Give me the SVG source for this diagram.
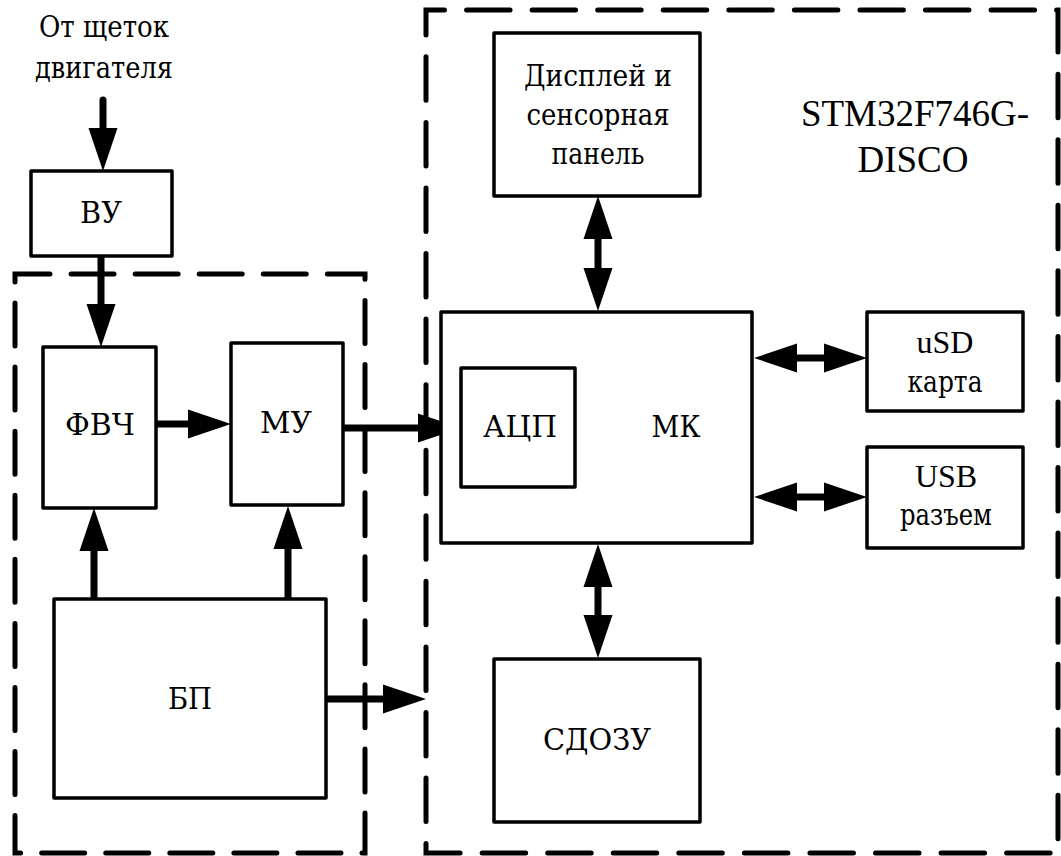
<svg xmlns="http://www.w3.org/2000/svg" xmlns:xlink="http://www.w3.org/1999/xlink" width="1061" height="856" viewBox="0 0 1061 856">
<style>
  .box { fill: #fff; stroke: #000; stroke-width: 3.5; stroke-linejoin: round; }
  .grp { fill: none; stroke: #000; stroke-width: 5; stroke-linecap: round; }
  .shaft { stroke: #000; stroke-width: 7; fill: none; }
  .t { font-family: "Liberation Serif", "DejaVu Serif", serif; font-size: 32px; fill: #000; text-anchor: middle; }
  .cy { font-family: "DejaVu Serif", "Liberation Serif", serif; font-size: 29px; }
  .big { font-size: 37px; }
</style>
<defs>
  <path id="ah" d="M0,0 L-43,-14.5 L-43,14.5 Z" fill="#000"/>
</defs>
<rect width="1061" height="856" fill="#fff"/>

<g id="groups">
  <path id="grp-analog" class="grp" d="M15,282 L15,274 L365,274 L365,853 L15,853 Z" stroke-dasharray="43 21.07"/>
  <path id="grp-disco" class="grp" d="M426,35 L426,10 L1058,10 L1058,853 L426,853 Z" stroke-dasharray="43.5 22.06"/>
</g>

<g id="connectors">
  <line class="shaft" x1="103" y1="100" x2="103" y2="131" stroke-linecap="round"/>
  <use xlink:href="#ah" href="#ah" transform="translate(103,171) rotate(90)"/>
  <line class="shaft" x1="101" y1="255" x2="101" y2="307"/>
  <use xlink:href="#ah" href="#ah" transform="translate(101,347) rotate(90)"/>
  <line class="shaft" x1="156" y1="424" x2="190" y2="424"/>
  <use xlink:href="#ah" href="#ah" transform="translate(231,424)"/>
  <line class="shaft" x1="343" y1="428" x2="420" y2="428"/>
  <use xlink:href="#ah" href="#ah" transform="translate(461,428)"/>
  <line class="shaft" x1="94" y1="600" x2="94" y2="549"/>
  <use xlink:href="#ah" href="#ah" transform="translate(94,508) rotate(-90)"/>
  <line class="shaft" x1="288" y1="600" x2="288" y2="547"/>
  <use xlink:href="#ah" href="#ah" transform="translate(288,506) rotate(-90)"/>
  <line class="shaft" x1="326" y1="699" x2="386" y2="699"/>
  <use xlink:href="#ah" href="#ah" transform="translate(426,699)"/>
  <line class="shaft" x1="598" y1="237" x2="598" y2="270"/>
  <use xlink:href="#ah" href="#ah" transform="translate(598,196) rotate(-90)"/>
  <use xlink:href="#ah" href="#ah" transform="translate(598,311) rotate(90)"/>
  <line class="shaft" x1="598" y1="585" x2="598" y2="618"/>
  <use xlink:href="#ah" href="#ah" transform="translate(598,544) rotate(-90)"/>
  <use xlink:href="#ah" href="#ah" transform="translate(598,658) rotate(90)"/>
  <line class="shaft" x1="795" y1="358" x2="826" y2="358"/>
  <use xlink:href="#ah" href="#ah" transform="translate(754,358) rotate(180)"/>
  <use xlink:href="#ah" href="#ah" transform="translate(867,358)"/>
  <line class="shaft" x1="795" y1="497" x2="826" y2="497"/>
  <use xlink:href="#ah" href="#ah" transform="translate(754,497) rotate(180)"/>
  <use xlink:href="#ah" href="#ah" transform="translate(867,497)"/>
</g>

<g id="input-label">
  <text class="t cy" x="104" y="37" textLength="130" lengthAdjust="spacingAndGlyphs">От щеток</text>
  <text class="t cy" x="104" y="78" textLength="138" lengthAdjust="spacingAndGlyphs">двигателя</text>
</g>

<g id="node-vu">
  <rect class="box" x="31" y="171" width="141" height="85"/>
  <text class="t cy" x="101" y="223" textLength="42" lengthAdjust="spacingAndGlyphs">ВУ</text>
</g>
<g id="node-fvch">
  <rect class="box" x="43" y="347" width="113" height="161"/>
  <text class="t cy" x="100" y="435" textLength="70" lengthAdjust="spacingAndGlyphs">ФВЧ</text>
</g>
<g id="node-mu">
  <rect class="box" x="231" y="343" width="112" height="162"/>
  <text class="t cy" x="286" y="433" textLength="52" lengthAdjust="spacingAndGlyphs">МУ</text>
</g>
<g id="node-bp">
  <rect class="box" x="54" y="599" width="272" height="199"/>
  <text class="t cy" x="190" y="709" textLength="44" lengthAdjust="spacingAndGlyphs">БП</text>
</g>
<g id="node-display">
  <rect class="box" x="494" y="33" width="206" height="163"/>
  <text class="t cy" x="598" y="86" textLength="148" lengthAdjust="spacingAndGlyphs">Дисплей и</text>
  <text class="t cy" x="598" y="125" textLength="143" lengthAdjust="spacingAndGlyphs">сенсорная</text>
  <text class="t cy" x="598" y="164" textLength="93" lengthAdjust="spacingAndGlyphs">панель</text>
</g>
<g id="label-board">
  <text class="t big" x="915" y="126">STM32F746G-</text>
  <text class="t big" x="913" y="172">DISCO</text>
</g>
<g id="node-mk">
  <rect class="box" x="441" y="312" width="311" height="231"/>
  <text class="t cy" x="676" y="437" textLength="49" lengthAdjust="spacingAndGlyphs">МК</text>
</g>
<g id="node-adc">
  <rect class="box" x="461" y="368" width="114" height="119"/>
  <text class="t cy" x="520" y="437" textLength="74" lengthAdjust="spacingAndGlyphs">АЦП</text>
</g>
<g id="node-usd">
  <rect class="box" x="867" y="312" width="156" height="99"/>
  <text class="t" x="945" y="353">uSD</text>
  <text class="t cy" x="945" y="392" textLength="75" lengthAdjust="spacingAndGlyphs">карта</text>
</g>
<g id="node-usb">
  <rect class="box" x="867" y="447" width="156" height="101"/>
  <text class="t" x="946" y="487">USB</text>
  <text class="t cy" x="946" y="525" textLength="92" lengthAdjust="spacingAndGlyphs">разъем</text>
</g>
<g id="node-sdram">
  <rect class="box" x="494" y="659" width="206" height="163"/>
  <text class="t cy" x="597" y="750" textLength="108" lengthAdjust="spacingAndGlyphs">СДОЗУ</text>
</g>
</svg>
